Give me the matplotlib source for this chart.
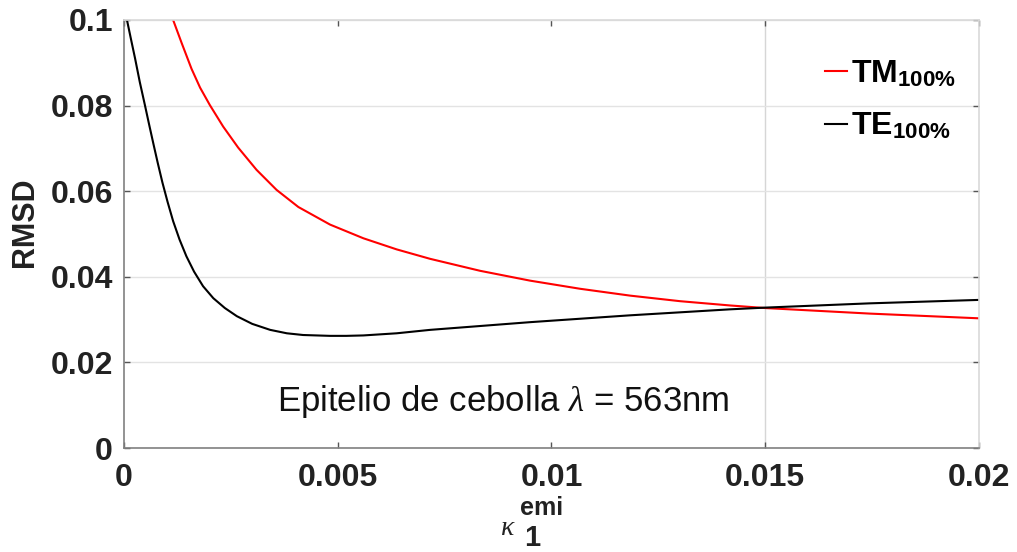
import matplotlib
matplotlib.use('Agg')
import matplotlib.pyplot as plt

plt.rcParams['font.family'] = ['Liberation Sans', 'DejaVu Sans']
plt.rcParams['mathtext.fontset'] = 'custom'
plt.rcParams['mathtext.rm'] = 'Liberation Sans'
plt.rcParams['mathtext.it'] = 'Liberation Serif:italic'
plt.rcParams['mathtext.bf'] = 'Liberation Sans:bold'

# RMSD vs kappa_1^emi for onion epithelium at 563 nm
kappa_tm = [0.00115, 0.00135, 0.00158, 0.00178, 0.00201, 0.00232, 0.00267, 0.00310,
            0.00357, 0.00408, 0.00482, 0.0056, 0.00638, 0.00716, 0.00833, 0.0095,
            0.01067, 0.01184, 0.01301, 0.01418, 0.015, 0.01745, 0.02]
rmsd_tm = [0.1000, 0.0946, 0.0886, 0.0842, 0.0801, 0.0751, 0.0702, 0.0650,
           0.0603, 0.0563, 0.0522, 0.0490, 0.0464, 0.0442, 0.0414, 0.0391,
           0.0372, 0.0356, 0.0343, 0.0333, 0.0327, 0.0314, 0.0303]

kappa_te = [0.00007, 0.00016, 0.00026, 0.00037, 0.00049, 0.00059, 0.00069, 0.00079,
            0.00090, 0.00102, 0.00115, 0.00130, 0.00146, 0.00164, 0.00185, 0.00209,
            0.00236, 0.00264, 0.00300, 0.00342, 0.00381, 0.00419, 0.00482, 0.0052,
            0.0056, 0.00638, 0.00716, 0.00833, 0.0095, 0.01067, 0.01184, 0.01301,
            0.01418, 0.015, 0.01745, 0.02]
rmsd_te = [0.1000, 0.0957, 0.0910, 0.0855, 0.0801, 0.0755, 0.0710, 0.0666,
           0.0620, 0.0575, 0.0530, 0.0487, 0.0448, 0.0412, 0.0378, 0.0350,
           0.0327, 0.0308, 0.0290, 0.0276, 0.0268, 0.0264, 0.0262, 0.0262,
           0.0263, 0.0268, 0.0276, 0.0285, 0.0294, 0.0302, 0.0310, 0.0317,
           0.0324, 0.0328, 0.0338, 0.0346]

xticks = [0, 0.005, 0.01, 0.015, 0.02]
xtick_labels = ['0', '0.005', '0.01', '0.015', '0.02']
yticks = [0, 0.02, 0.04, 0.06, 0.08, 0.1]
ytick_labels = ['0', '0.02', '0.04', '0.06', '0.08', '0.1']

fig = plt.figure(figsize=(10.17, 5.52), dpi=100)
ax = fig.add_axes([0.1219, 0.1884, 0.8407, 0.7754])

ax.plot(kappa_tm, rmsd_tm, color='red', linewidth=1.5, label=r'$\mathbf{TM}_{\mathbf{100\%}}$')
ax.plot(kappa_te, rmsd_te, color='black', linewidth=1.5, label=r'$\mathbf{TE}_{\mathbf{100\%}}$')

ax.set_xlim(0, 0.02)
ax.set_ylim(0, 0.1)
ax.set_xticks(xticks)
ax.set_xticklabels(xtick_labels)
ax.set_yticks(yticks)
ax.set_yticklabels(ytick_labels)

# horizontal grid plus a single vertical line at 0.015
ax.yaxis.grid(True, color='#e3e3e3', linewidth=1.0)
ax.axvline(0.015, color='#d6d6d6', linewidth=1.0, zorder=0)
ax.set_axisbelow(True)

for lbl in ax.get_xticklabels() + ax.get_yticklabels():
    lbl.set_fontweight('bold')
    lbl.set_fontsize(23)
    lbl.set_color('#222222')
ax.tick_params(direction='in', top=True, right=True, length=4, width=1,
               color='#555555')
ax.tick_params(axis='x', pad=11)
ax.tick_params(axis='y', pad=8)

ax.spines['left'].set_color('#808080')
ax.spines['bottom'].set_color('#808080')
ax.spines['top'].set_color('#d9d9d9')
ax.spines['right'].set_color('#d9d9d9')
for s in ax.spines.values():
    s.set_linewidth(1.2)

ax.text(0.00887, 0.0108, r'Epitelio de cebolla $\lambda$ = 563nm', fontsize=25,
        ha='center', va='center', color='#111111')

leg = ax.legend(loc='upper left', bbox_to_anchor=(0.82, 0.91), frameon=False,
                fontsize=23, handlelength=0.7, handletextpad=0.1,
                labelspacing=0.7, borderpad=0, borderaxespad=0)

fig.text(0.0246, 0.598, 'RMSD', rotation=90, fontsize=22, fontweight='bold',
         ha='center', va='center', color='#222222')

# x label kappa_1^emi built from pieces
fig.text(0.4995, 0.031, 'κ', fontsize=20, family='Liberation Serif', style='italic',
         ha='center', va='baseline', color='#222222')
fig.text(0.515, 0.010, '1', fontsize=21, fontweight='bold', ha='left',
         va='baseline', color='#222222')
fig.text(0.511, 0.067, 'emi', fontsize=18, fontweight='bold', ha='left',
         va='baseline', color='#222222')

fig.savefig('out.png', dpi=100)
